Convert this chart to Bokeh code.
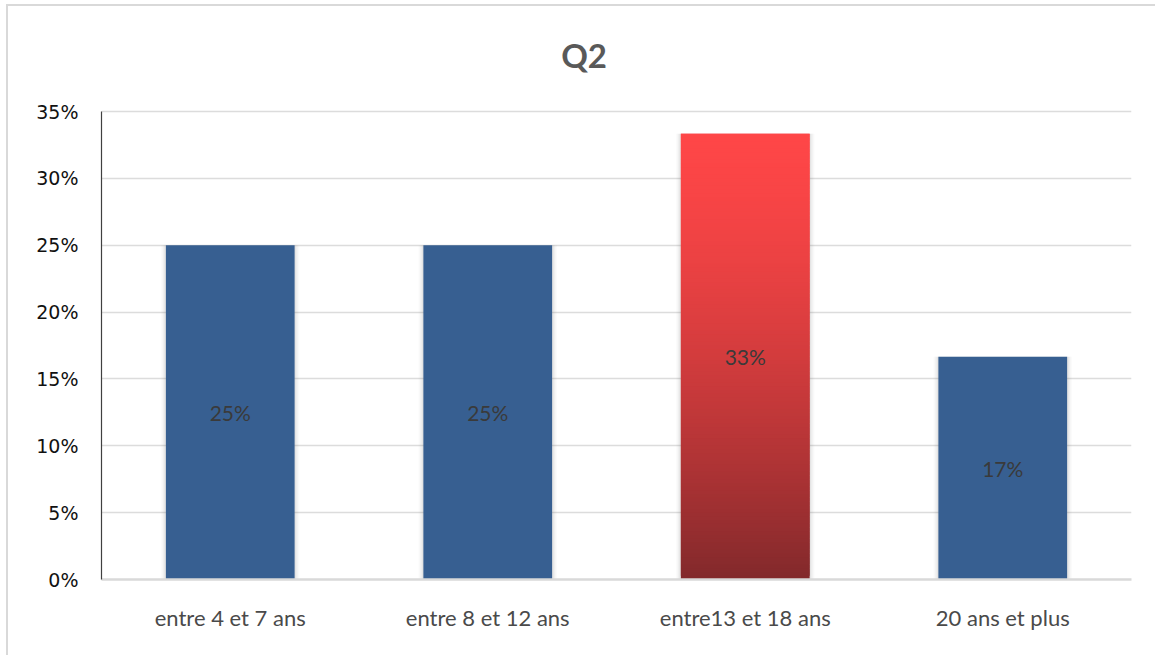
from bokeh.plotting import figure
from bokeh.models import (ColumnDataSource, FactorRange, Range1d, FixedTicker,
                          NumeralTickFormatter, LabelSet)
from bokeh.core.properties import value
from bokeh.embed import file_html
from bokeh.resources import INLINE

# --- data -------------------------------------------------------------
categories = ["entre 4 et 7 ans", "entre 8 et 12 ans", "entre13 et 18 ans", "20 ans et plus"]
shares = [0.25, 0.25, 1 / 3, 1 / 6]
share_labels = ["25%", "25%", "33%", "17%"]
highlight = "entre13 et 18 ans"
y_ticks = [0, 0.05, 0.10, 0.15, 0.20, 0.25, 0.30, 0.35]
title_text = "Q2"

BLUE = "#375f91"
RED_TOP = (254, 70, 71)
RED_BOTTOM = (130, 41, 43)
BAR_W = 0.5
Y_AXIS_MAX = 0.35
# the frame reaches above the top tick so the title can sit inside it
Y_VIEW_MAX = Y_AXIS_MAX * 553 / 468

p = figure(width=1149, height=651, x_range=FactorRange(*categories),
           y_range=Range1d(0, Y_VIEW_MAX), output_backend="svg", toolbar_location=None,
           min_border_left=93, min_border_right=26, min_border_top=20,
           min_border_bottom=78)
p.outline_line_color = None
p.background_fill_color = "white"
p.border_fill_color = "white"
# light frame around the whole chart
p.styles = {"margin-left": "6px", "margin-top": "4px",
            "border-left": "2px solid #d9d9d9", "border-top": "2px solid #d9d9d9"}

# axes and grid
p.yaxis.ticker = FixedTicker(ticks=y_ticks)
p.yaxis.bounds = (0, Y_AXIS_MAX)
p.yaxis.formatter = NumeralTickFormatter(format="0%")
p.yaxis.major_tick_line_color = None
p.yaxis.minor_tick_line_color = None
p.yaxis.axis_line_color = "#404040"
p.yaxis.axis_line_width = 1.2
p.yaxis.major_label_text_font = "DejaVu Sans"
p.yaxis.major_label_text_font_size = "19px"
p.yaxis.major_label_text_color = "#111111"
p.yaxis.major_label_standoff = 17

p.xaxis.major_tick_line_color = None
p.xaxis.minor_tick_line_color = None
p.xaxis.axis_line_color = "#d9d9d9"
p.xaxis.axis_line_width = 2.5
p.xaxis.major_label_text_font = "Lato"
p.xaxis.major_label_text_font_size = "22px"
p.xaxis.major_label_text_color = "#4a4a4a"
p.xaxis.major_label_standoff = 18

p.xgrid.grid_line_color = None
p.ygrid.grid_line_color = "#dcdcdc"
p.ygrid.grid_line_width = 1.3

# soft shadow behind every bar
for k, a in [(0.036, 0.05), (0.024, 0.07), (0.012, 0.10)]:
    p.vbar(x=categories, top=shares, width=BAR_W + k, bottom=0,
           fill_color="#808080", fill_alpha=a, line_color=None)

# plain bars
plain = [(c, v) for c, v in zip(categories, shares) if c != highlight]
p.vbar(x=[c for c, _ in plain], top=[v for _, v in plain], width=BAR_W,
       fill_color=BLUE, line_color=None)

# highlighted bar with a vertical red gradient (overlapping slices, no seams);
# the colour stays bright near the top and darkens faster towards the base
hv = shares[categories.index(highlight)]
n = 120
bottoms, tops, colors = [], [], []
for i in range(n):
    depth = 1 - (i + 0.5) / n          # 0 at the top, 1 at the base
    w = depth ** 1.5
    rgb = tuple(int(round(RED_TOP[j] + (RED_BOTTOM[j] - RED_TOP[j]) * w)) for j in range(3))
    bottoms.append(hv * i / n)
    tops.append(min(hv, hv * (i + 2) / n))
    colors.append("#%02x%02x%02x" % rgb)
p.vbar(x=[highlight] * n, bottom=bottoms, top=tops, width=BAR_W,
       fill_color=colors, line_color=None)

# value labels in the middle of each bar
src = ColumnDataSource(dict(x=categories, y=[v / 2 for v in shares], t=share_labels))
p.add_layout(LabelSet(x="x", y="y", text="t", source=src, text_align="center",
                      text_baseline="middle", text_font=value("Lato"),
                      text_font_size="21px", text_color="#3a3a3a"))

# chart title, centred over the whole chart (slightly left of the frame centre)
p.text(x=[1.874], y=[0.3919], text=[title_text], text_align="center",
       text_baseline="middle", text_font=value("Lato"), text_font_style="bold",
       text_font_size="33px", text_color="#595959")

open("out.html", "w").write(file_html(p, INLINE))
